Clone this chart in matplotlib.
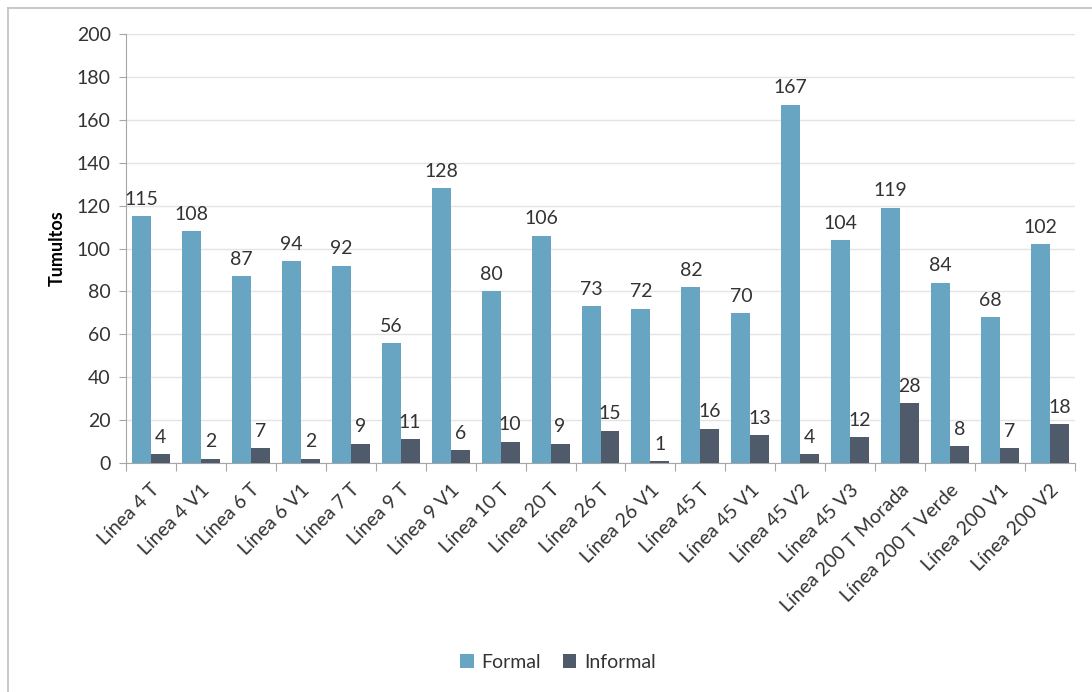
import numpy as np
import matplotlib.pyplot as plt
from matplotlib.lines import Line2D

plt.rcParams['font.family'] = ['Lato', 'DejaVu Sans']

# data
categories = ['Línea 4 T', 'Línea 4 V1', 'Línea 6 T', 'Línea 6 V1', 'Línea 7 T',
              'Línea 9 T', 'Línea 9 V1', 'Línea 10 T', 'Línea 20 T', 'Línea 26 T',
              'Línea 26 V1', 'Línea 45 T', 'Línea 45 V1', 'Línea 45 V2', 'Línea 45 V3',
              'Línea 200 T Morada', 'Línea 200 T Verde', 'Línea 200 V1', 'Línea 200 V2']
formal = [115, 108, 87, 94, 92, 56, 128, 80, 106, 73, 72, 82, 70, 167, 104, 119, 84, 68, 102]
informal = [4, 2, 7, 2, 9, 11, 6, 10, 9, 15, 1, 16, 13, 4, 12, 28, 8, 7, 18]

formal_color = '#67A5C3'
informal_color = '#4F5B6A'
text_color = '#333333'
fs = 14

fig = plt.figure(figsize=(10.92, 6.92), dpi=100)
ax = fig.add_axes([126/1092, 1 - 463/692, (1075 - 126)/1092, (463 - 34)/692])

x = np.arange(len(categories))
w = 0.38
b1 = ax.bar(x - w/2, formal, w, color=formal_color, label='Formal', zorder=3)
b2 = ax.bar(x + w/2, informal, w, color=informal_color, label='Informal', zorder=3)

for bars, vals in [(b1, formal), (b2, informal)]:
    for r, v in zip(bars, vals):
        ax.annotate(str(v), (r.get_x() + r.get_width()/2, v), xytext=(0, 6),
                    textcoords='offset points', ha='center', va='bottom',
                    fontsize=fs, color=text_color)

ax.set_xlim(-0.5, len(categories) - 0.5)
ax.set_ylim(0, 200)
ax.set_yticks(range(0, 201, 20))
ax.yaxis.grid(True, color='#E4E4E4', linewidth=1, zorder=0)
ax.tick_params(axis='y', labelsize=fs, labelcolor=text_color, color='#A6A6A6',
               length=5, direction='out', pad=6)

# category ticks between groups, labels at centers
ax.set_xticks(np.arange(-0.5, len(categories), 1))
ax.set_xticklabels([])
ax.set_xticks(x, minor=True)
ax.set_xticklabels(categories, minor=True, rotation=45, ha='right',
                   rotation_mode='anchor', fontsize=fs, color=text_color)
ax.tick_params(axis='x', which='major', length=6, color='#A6A6A6')
ax.tick_params(axis='x', which='minor', length=0, pad=13)

for s in ['top', 'right']:
    ax.spines[s].set_visible(False)
for s in ['left', 'bottom']:
    ax.spines[s].set_color('#A6A6A6')

ax.set_ylabel('Tumultos', fontsize=13, fontweight='bold', color='black', labelpad=8)

ax.legend(loc='center', bbox_to_anchor=(558/1092, 1 - 662/692),
          bbox_transform=fig.transFigure, ncol=2, frameon=False, fontsize=fs,
          handlelength=0.7, handleheight=0.7, handletextpad=0.4, columnspacing=1.1,
          labelcolor=text_color)

# outer frame (top and left edges visible)
fig.add_artist(Line2D([8/1092, 8/1092], [0, 1 - 8/692], transform=fig.transFigure,
                      color='#BFBFBF', linewidth=1.2))
fig.add_artist(Line2D([8/1092, 1], [1 - 8/692, 1 - 8/692], transform=fig.transFigure,
                      color='#BFBFBF', linewidth=1.2))

plt.savefig('out.png', dpi=100)
